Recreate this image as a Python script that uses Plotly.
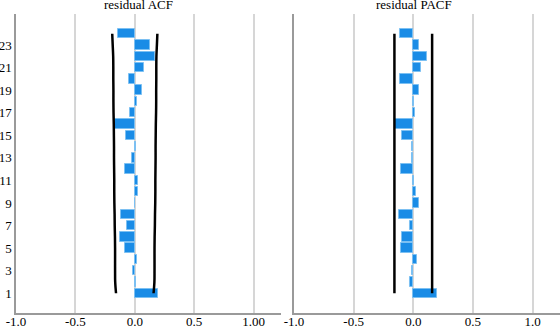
import plotly.graph_objects as go

lags = list(range(1, 25))
acf = [0.195, 0.008, -0.014, 0.022, -0.084, -0.128, -0.067, -0.12, 0.003, 0.03,
       0.03, -0.084, -0.02, 0.008, -0.078, -0.165, -0.042, 0.016, 0.061, -0.053,
       0.075, 0.17, 0.126, -0.14]
pacf = [0.195, -0.028, -0.011, 0.028, -0.103, -0.092, -0.028, -0.117, 0.045, 0.022,
        0.002, -0.1, -0.011, -0.011, -0.092, -0.15, 0.012, 0.01, 0.05, -0.115,
        0.067, 0.115, 0.045, -0.112]
acf_band = [0.158, 0.165, 0.166, 0.166, 0.166, 0.167, 0.169, 0.17, 0.172, 0.173,
            0.173, 0.174, 0.175, 0.175, 0.176, 0.177, 0.179, 0.18, 0.18, 0.181,
            0.181, 0.182, 0.186, 0.19]
pacf_band = [0.158] * 24

x_tickvals = [-1.0, -0.5, 0.0, 0.5, 1.0]
x_ticktext_acf = ["-1.0", "-0.5", "0.0", "0.5", "1.00"]
x_ticktext_pacf = ["-1.0", "-0.5", "0.0", "0.5", "1.0"]
y_tickvals = list(range(1, 24, 2))

BAR = "#1a8ce6"
BAR_EDGE = "#7cc0f2"
FONT = "'Liberation Serif', 'Times New Roman', serif"

fig = go.Figure()

for vals, band, xa, ya in [(acf, acf_band, "x", "y"), (pacf, pacf_band, "x2", "y2")]:
    fig.add_trace(go.Bar(x=vals, y=lags, orientation="h", width=0.83,
                         marker=dict(color=BAR, line=dict(color=BAR_EDGE, width=1)),
                         xaxis=xa, yaxis=ya, showlegend=False, hoverinfo="skip"))
    fig.add_trace(go.Scatter(x=band, y=lags, mode="lines",
                             line=dict(color="black", width=2.5, shape="spline"),
                             xaxis=xa, yaxis=ya, showlegend=False, hoverinfo="skip"))
    fig.add_trace(go.Scatter(x=[-b for b in band], y=lags, mode="lines",
                             line=dict(color="black", width=2.5, shape="spline"),
                             xaxis=xa, yaxis=ya, showlegend=False, hoverinfo="skip"))

axis_common = dict(range=[-1.0, 1.23], tickvals=x_tickvals, showgrid=True,
                   gridcolor="#d6d6d6", gridwidth=1.5, zeroline=False,
                   showline=True, linecolor="#9a9a9a", linewidth=1.5, ticks="",
                   automargin=False, ticklabelstandoff=-4,
                   tickfont=dict(family=FONT, size=13, color="black"))

fig.update_layout(
    width=560, height=326,
    margin=dict(l=16, r=0, t=14, b=13),
    paper_bgcolor="white", plot_bgcolor="white",
    font=dict(family=FONT, size=13, color="black"),
    bargap=0,
    xaxis=dict(domain=[0, 0.487], ticktext=x_ticktext_acf, anchor="y", **axis_common),
    xaxis2=dict(domain=[0.511, 1.0], ticktext=x_ticktext_pacf, anchor="y2", **axis_common),
    yaxis=dict(range=[-0.75, 25.75], tickvals=y_tickvals, showgrid=False, zeroline=False,
               showline=True, linecolor="#9a9a9a", linewidth=1.5, ticks="",
               automargin=False, ticklabelstandoff=0,
               anchor="x", tickfont=dict(family=FONT, size=13, color="black")),
    yaxis2=dict(range=[-0.75, 25.75], matches="y", showticklabels=False, showgrid=False,
                zeroline=False, showline=True, linecolor="#9a9a9a", linewidth=1.5,
                ticks="", anchor="x2", automargin=False),
    annotations=[
        dict(text="residual ACF", x=0.226, y=1, xref="paper", yref="paper",
             xanchor="center", yanchor="bottom", showarrow=False,
             font=dict(family=FONT, size=13, color="black")),
        dict(text="residual PACF", x=0.732, y=1, xref="paper", yref="paper",
             xanchor="center", yanchor="bottom", showarrow=False,
             font=dict(family=FONT, size=13, color="black")),
    ],
)

fig.write_html("out.html", config={"displayModeBar": False},
               post_script="document.body.style.margin='0';document.body.style.overflow='hidden';")
